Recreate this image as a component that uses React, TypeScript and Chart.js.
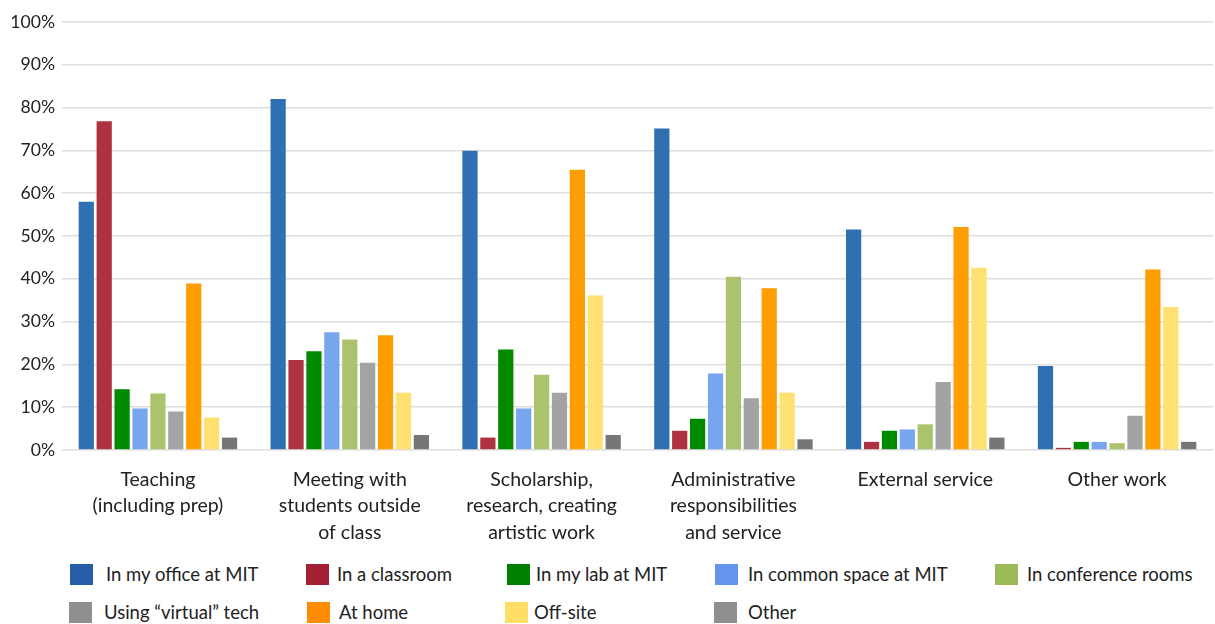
import React, { useEffect, useRef } from "react";
import { Chart, registerables } from "chart.js";

Chart.register(...registerables);

const categories: string[][] = [
  ["Teaching", "(including prep)"],
  ["Meeting with", "students outside", "of class"],
  ["Scholarship,", "research, creating", "artistic work"],
  ["Administrative", "responsibilities", "and service"],
  ["External service"],
  ["Other work"],
];

const seriesNames = [
  "In my office at MIT",
  "In a classroom",
  "In my lab at MIT",
  "In common space at MIT",
  "In conference rooms",
  "Using \u201cvirtual\u201d tech",
  "At home",
  "Off-site",
  "Other",
];

const office = [58.0, 82.0, 69.9, 75.1, 51.5, 19.6];
const classroom = [76.8, 21.0, 2.9, 4.5, 1.9, 0.5];
const lab = [14.2, 23.1, 23.5, 7.3, 4.5, 1.9];
const commonSpace = [9.7, 27.5, 9.7, 17.9, 4.8, 1.9];
const conference = [13.2, 25.8, 17.6, 40.5, 6.0, 1.6];
const virtualTech = [9.0, 20.4, 13.4, 12.1, 15.9, 8.0];
const home = [38.9, 26.8, 65.5, 37.8, 52.1, 42.2];
const offSite = [7.6, 13.4, 36.1, 13.4, 42.6, 33.4];
const other = [2.9, 3.5, 3.5, 2.5, 2.9, 1.9];

const seriesValues = [office, classroom, lab, commonSpace, conference, virtualTech, home, offSite, other];

const yTicks = [0, 10, 20, 30, 40, 50, 60, 70, 80, 90, 100];

const barColors = ["#2E70B2", "#B03142", "#008A00", "#77A6EE", "#ACC26D", "#A3A3A3", "#FF9E00", "#FFE070", "#767676"];
const legendColors = ["#255DA8", "#A31F34", "#008000", "#6495ED", "#9BBB59", "#8F8F8F", "#FF8C00", "#FFDE66", "#8F8F8F"];

// legend layout (box x, text x, row)
const legendLayout = [
  { box: 70, text: 106, row: 0 },
  { box: 306, text: 337, row: 0 },
  { box: 507, text: 536, row: 0 },
  { box: 715, text: 748, row: 0 },
  { box: 995, text: 1027, row: 0 },
  { box: 69, text: 104, row: 1 },
  { box: 307, text: 339, row: 1 },
  { box: 505, text: 534, row: 1 },
  { box: 714, text: 748, row: 1 },
];

const FONT = "Lato, 'Open Sans', sans-serif";

export default function App() {
  const ref = useRef<HTMLCanvasElement | null>(null);

  useEffect(() => {
    if (!ref.current) return;
    const chart = new Chart(ref.current, {
      type: "bar",
      data: {
        labels: categories,
        datasets: seriesNames.map((name, i) => ({
          label: name,
          data: seriesValues[i],
          backgroundColor: barColors[i],
          borderWidth: 0,
          categoryPercentage: 0.84,
          barPercentage: 0.85,
        })),
      },
      options: {
        responsive: false,
        animation: false,
        layout: { padding: { top: 22, right: 2, left: 0, bottom: 0 } },
        plugins: { legend: { display: false }, tooltip: { enabled: false } },
        scales: {
          x: {
            grid: { display: false },
            border: { display: false },
            ticks: {
              color: "#222",
              font: { family: FONT, size: 19.5, lineHeight: 1.34 },
              padding: 9,
              maxRotation: 0,
              autoSkip: false,
            },
            afterFit: (scale: any) => {
              scale.height = 100;
            },
          },
          y: {
            min: 0,
            max: 100,
            afterBuildTicks: (scale: any) => {
              scale.ticks = yTicks.map((v) => ({ value: v }));
            },
            grid: { color: "#dedede", lineWidth: 1.6, drawTicks: false },
            border: { display: false },
            ticks: {
              color: "#222",
              font: { family: FONT, size: 17.6 },
              padding: 7,
              callback: (v: any) => v + "%",
            },
            afterFit: (scale: any) => {
              scale.width = 62;
            },
          },
        },
      },
    });
    return () => chart.destroy();
  }, []);

  return (
    <div style={{ position: "absolute", left: 0, top: 0, width: 1215, height: 624, background: "#fff", overflow: "hidden", fontFamily: FONT }}>
      <canvas ref={ref} width={1215} height={550} style={{ position: "absolute", left: 0, top: 0, width: 1215, height: 550 }} />
      {seriesNames.map((name, i) => {
        const l = legendLayout[i];
        const cy = l.row === 0 ? 574 : 612;
        return (
          <React.Fragment key={name}>
            <div style={{ position: "absolute", left: l.box, top: cy - 10, width: 23, height: 21, background: legendColors[i] }} />
            <div style={{ position: "absolute", left: l.text, top: cy - 13, height: 26, lineHeight: "26px", fontSize: 18.5, color: "#222", whiteSpace: "nowrap" }}>{name}</div>
          </React.Fragment>
        );
      })}
    </div>
  );
}
